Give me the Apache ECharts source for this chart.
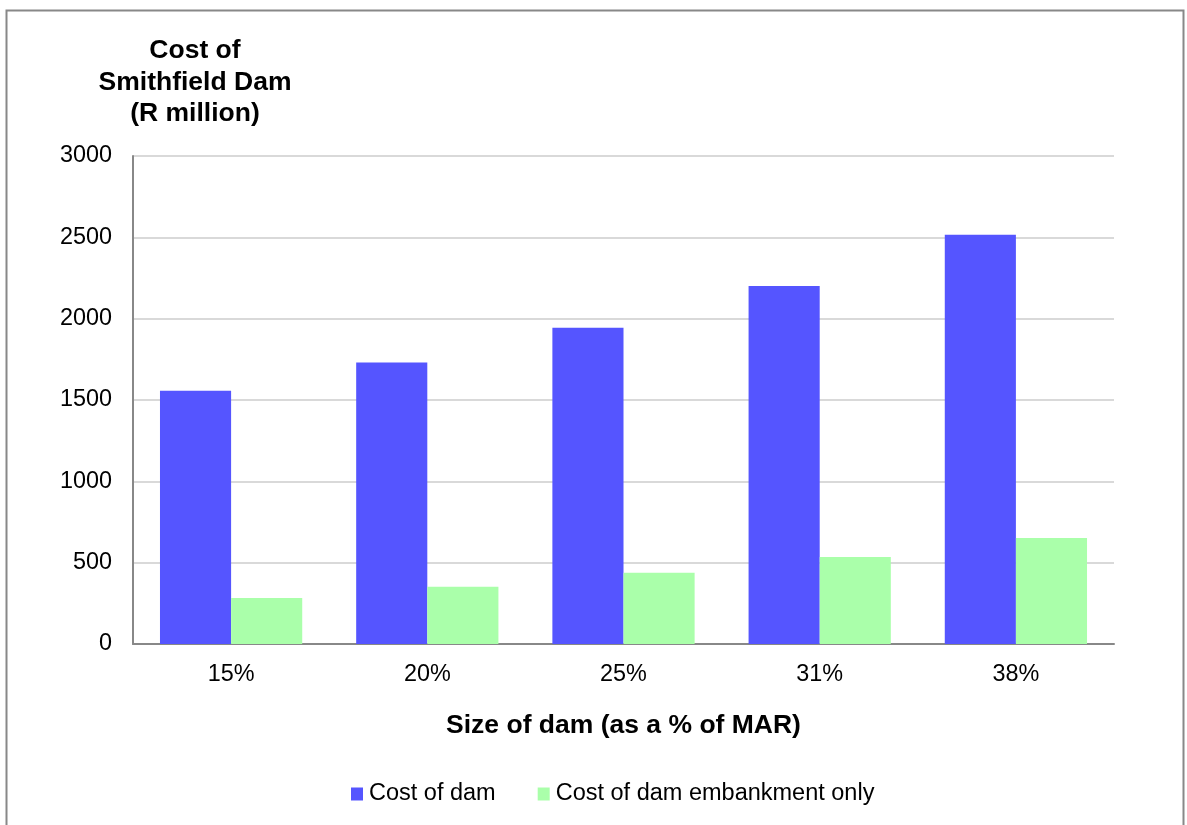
<!DOCTYPE html>
<html>
<head>
<meta charset="utf-8">
<script src="https://cdn.jsdelivr.net/npm/echarts@6/dist/echarts.min.js"></script>
<style>
  html, body { margin: 0; padding: 0; background: #fff; }
  #chart { width: 1187px; height: 825px; }
</style>
</head>
<body>
<div id="chart"></div>
<script>
// Dam size options and cost estimates (R million)
const damSizes = ['15%', '20%', '25%', '31%', '38%'];
const costOfDam = [1557, 1730, 1944, 2201, 2516];
const costOfEmbankment = [283, 352, 438, 535, 652];
const yTicks = { min: 0, max: 3000, interval: 500 };

const font = 'Arial, "Liberation Sans", sans-serif';
const chart = echarts.init(document.getElementById('chart'), null, { renderer: 'canvas' });

chart.setOption({
  animation: false,
  backgroundColor: '#ffffff',
  textStyle: { fontFamily: font },
  title: {
    text: 'Cost of\nSmithfield Dam\n(R million)',
    left: 195,
    top: 35,
    textAlign: 'center',
    padding: 0,
    textStyle: { fontFamily: font, fontSize: 26.5, fontWeight: 'bold', color: '#000', lineHeight: 31.5 }
  },
  legend: {
    top: 782,
    left: 351,
    padding: 0,
    itemWidth: 12,
    itemHeight: 13,
    itemGap: 42,
    icon: 'rect',
    textStyle: { fontFamily: font, fontSize: 23.5, color: '#000', padding: [0, 0, 0, 1] },
    data: ['Cost of dam', 'Cost of dam embankment only']
  },
  grid: { left: 133, right: 73, top: 156, bottom: 181, containLabel: false },
  xAxis: {
    type: 'category',
    data: damSizes,
    name: 'Size of dam (as a % of MAR)',
    nameLocation: 'middle',
    nameGap: 68,
    nameTextStyle: { fontFamily: font, fontSize: 26.5, fontWeight: 'bold', color: '#000' },
    axisLine: { lineStyle: { color: '#888', width: 2 } },
    axisTick: { show: false },
    axisLabel: { fontFamily: font, fontSize: 23.4, color: '#000', margin: 19 }
  },
  yAxis: {
    type: 'value',
    min: yTicks.min,
    max: yTicks.max,
    interval: yTicks.interval,
    axisLine: { show: true, lineStyle: { color: '#888', width: 2 } },
    axisTick: { show: false },
    axisLabel: {
      fontFamily: font,
      fontSize: 23.4,
      color: '#000',
      margin: 21,
      formatter: (v) => String(v)
    },
    splitLine: { lineStyle: { color: '#d9d9d9', width: 2 } }
  },
  series: [
    {
      name: 'Cost of dam',
      type: 'bar',
      data: costOfDam,
      barGap: '0%',
      barCategoryGap: '27.5%',
      itemStyle: { color: '#5555ff' }
    },
    {
      name: 'Cost of dam embankment only',
      type: 'bar',
      data: costOfEmbankment,
      itemStyle: { color: '#aaffaa' }
    }
  ],
  graphic: [
    {
      type: 'rect',
      shape: { x: 6.5, y: 10.5, width: 1177, height: 830 },
      style: { fill: 'none', stroke: '#888', lineWidth: 2 },
      silent: true,
      z: -1
    }
  ]
});
</script>
</body>
</html>
